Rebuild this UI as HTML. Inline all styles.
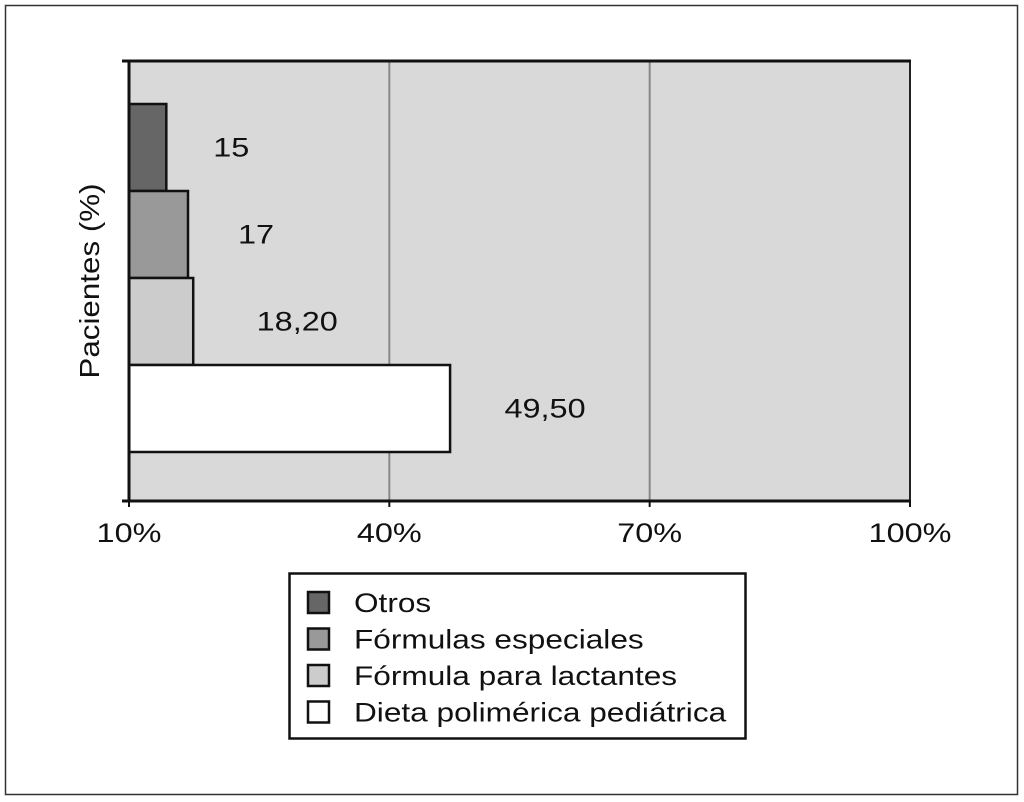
<!DOCTYPE html>
<html><head><meta charset="utf-8"><style>
html,body{margin:0;padding:0;background:#fff;}
svg{display:block;font-family:"Liberation Sans",Arial,sans-serif;}
</style></head><body>
<svg id="chart" width="1024" height="802" viewBox="0 0 1024 802">
<rect x="5.5" y="5.5" width="1012" height="789" fill="#fff" stroke="#333" stroke-width="1.5"/>
<rect x="129" y="61" width="781" height="440" fill="#d9d9d9"/>
<g id="grid"></g>
<g id="bars"></g>
<g id="labels"></g>
<g id="axes"></g>
<text id="ytitle" x="0" y="0" transform="translate(99,281) rotate(-90)" text-anchor="middle" font-size="28" fill="#111">Pacientes (%)</text>
<g>
<rect x="289.5" y="573.5" width="456" height="165" fill="#fff" stroke="#111" stroke-width="2.5"/>
<g id="legend-items"></g>
</g>
</svg>
<script>
const categories = ["Otros", "Fórmulas especiales", "Fórmula para lactantes", "Dieta polimérica pediátrica"];
const barValues = [14.3, 16.8, 17.4, 47.0];
const valueLabels = ["15", "17", "18,20", "49,50"];
const fills = ["#666666", "#999999", "#cccccc", "#ffffff"];
const xTicks = [10, 40, 70, 100];
const xTickLabels = ["10%", "40%", "70%", "100%"];

const NS = "http://www.w3.org/2000/svg";
const x0 = 129, x1 = 910, yTop = 61, yBot = 501;
function xs(v){ return x0 + (v - 10) / 90 * (x1 - x0); }
function yc(i){ return 147.5 + i * 87; }
const bandH = 87;
function mk(tag, attrs, parent){
  const e = document.createElementNS(NS, tag);
  for (const k in attrs) e.setAttribute(k, attrs[k]);
  parent.appendChild(e); return e;
}
function stretch(t, f){
  const w = t.getComputedTextLength();
  t.setAttribute("textLength", (w * f).toFixed(1));
  t.setAttribute("lengthAdjust", "spacingAndGlyphs");
}
const grid = document.getElementById("grid");
const axes = document.getElementById("axes");
xTicks.forEach((t, i) => {
  if (i > 0 && i < xTicks.length - 1) {
    const g = mk("line", {x1: xs(t), x2: xs(t), y1: yTop, y2: yBot, stroke: "#888", "stroke-width": 2}, grid);
    
    
  }
  const tk = mk("line", {x1: xs(t), x2: xs(t), y1: yBot, y2: yBot + 6, stroke: "#111", "stroke-width": 2}, axes);
  
  
  const tl = mk("text", {x: xs(t), y: 542, "text-anchor": "middle", "font-size": 27, fill: "#111"}, axes);
  tl.textContent = xTickLabels[i];
  
  
  stretch(tl, 1.2);
});
const rightLine = mk("line", {x1: x1, x2: x1, y1: yTop, y2: yBot, stroke: "#222", "stroke-width": 2}, axes);


const topLine = mk("line", {x1: 122, x2: x1 + 1, y1: yTop, y2: yTop, stroke: "#111", "stroke-width": 3}, axes);


const yAx = mk("line", {x1: x0, x2: x0, y1: yTop, y2: yBot, stroke: "#111", "stroke-width": 3}, axes);


const xAx = mk("line", {x1: 122, x2: x1 + 1, y1: yBot, y2: yBot, stroke: "#111", "stroke-width": 3}, axes);



stretch(document.getElementById("ytitle"), 1.12);

const bars = document.getElementById("bars");
const labels = document.getElementById("labels");
const labelOffsets = [65, 68, 104, 95];
categories.forEach((c, i) => {
  const w = xs(barValues[i]) - x0;
  const r = mk("rect", {x: x0, y: yc(i) - bandH / 2, width: w, height: bandH, fill: fills[i], stroke: "#111", "stroke-width": 2.5}, bars);
  
  
  const t = mk("text", {x: xs(barValues[i]) + labelOffsets[i], y: yc(i) + 9, "text-anchor": "middle", "font-size": 27, fill: "#111"}, labels);
  t.textContent = valueLabels[i];
  
  
  stretch(t, 1.2);
});

const li = document.getElementById("legend-items");
categories.forEach((c, i) => {
  const cy = 603 + i * 36.5;
  const s = mk("rect", {x: 308, y: cy - 11, width: 21, height: 21, fill: fills[i], stroke: "#111", "stroke-width": 2.5}, li);
  
  
  const t = mk("text", {x: 354, y: cy + 9, "font-size": 27, fill: "#111"}, li);
  t.textContent = c;
  
  
  stretch(t, 1.17);
});
</script>
</body></html>
